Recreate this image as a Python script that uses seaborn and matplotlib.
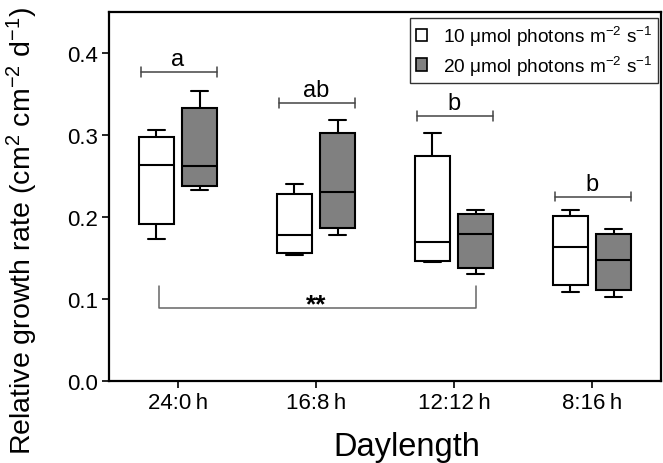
import matplotlib
matplotlib.use("Agg")
import matplotlib.pyplot as plt
import seaborn as sns
import pandas as pd

# ---- data (five-number summaries: whisker low, Q1, median, Q3, whisker high)
daylength = ["24:0\u2009h", "16:8\u2009h", "12:12\u2009h", "8:16\u2009h"]
light_levels = ["10 \u03bcmol photons m$^{-2}$ s$^{-1}$", "20 \u03bcmol photons m$^{-2}$ s$^{-1}$"]
rgr_10 = [
    [0.173, 0.192, 0.263, 0.298, 0.306],
    [0.154, 0.156, 0.178, 0.228, 0.240],
    [0.145, 0.146, 0.170, 0.274, 0.303],
    [0.108, 0.117, 0.164, 0.201, 0.208],
]
rgr_20 = [
    [0.233, 0.238, 0.262, 0.333, 0.354],
    [0.178, 0.186, 0.230, 0.303, 0.318],
    [0.130, 0.138, 0.179, 0.204, 0.209],
    [0.102, 0.111, 0.148, 0.179, 0.185],
]
group_letters = ["a", "ab", "b", "b"]
letter_heights = [0.377, 0.339, 0.323, 0.225]
y_ticks = [0.0, 0.1, 0.2, 0.3, 0.4]

rows = []
for level, series in zip(light_levels, [rgr_10, rgr_20]):
    for d, vals in zip(daylength, series):
        for v in vals:
            rows.append({"Daylength": d, "Light": level, "RGR": v})
df = pd.DataFrame(rows)

sns.set_style("ticks")
plt.rcParams["font.family"] = ["Liberation Sans", "DejaVu Sans"]
plt.rcParams["mathtext.fontset"] = "custom"
plt.rcParams["mathtext.rm"] = "Liberation Sans"
plt.rcParams["mathtext.it"] = "Liberation Sans:italic"
plt.rcParams["mathtext.bf"] = "Liberation Sans:bold"
for k in ["text.color", "axes.labelcolor", "xtick.color", "ytick.color", "axes.edgecolor"]:
    plt.rcParams[k] = "black"

fig = plt.figure(figsize=(6.63, 4.64), dpi=100)
ax = fig.add_axes([0.1644, 0.1767, 0.8326, 0.7953])

sns.boxplot(
    data=df, x="Daylength", y="RGR", hue="Light", order=daylength, hue_order=light_levels,
    palette={light_levels[0]: "white", light_levels[1]: "#808080"},
    whis=(0, 100), width=0.625, gap=0.19, linecolor="black", linewidth=1.5,
    ax=ax,
)

ax.set_xlim(-0.5, 3.5)
ax.set_ylim(0, 0.45)
ax.set_yticks(y_ticks)
ax.set_yticklabels([f"{t:.1f}" for t in y_ticks])
ax.tick_params(axis="both", labelsize=16, length=5, width=1.2, direction="out", pad=3)
for s in ax.spines.values():
    s.set_visible(True)
    s.set_linewidth(1.6)
    s.set_color("black")
ax.set_xlabel("Daylength", fontsize=23.5)
ax.xaxis.set_label_coords(0.54, -0.135)
ax.set_ylabel("Relative growth rate (cm$^{2}$ cm$^{-2}$ d$^{-1}$)", fontsize=20.5)
ax.yaxis.set_label_coords(-0.125, 0.409)

# letter brackets
bc = "#444444"
for i, (lab, h) in enumerate(zip(group_letters, letter_heights)):
    x0, x1 = i - 0.27, i + 0.28
    ax.plot([x0, x1], [h, h], color=bc, lw=1.1)
    ax.plot([x0, x0], [h - 0.006, h + 0.006], color=bc, lw=1.1)
    ax.plot([x1, x1], [h - 0.006, h + 0.006], color=bc, lw=1.1)
    ax.text(i, h + 0.002, lab, ha="center", va="bottom", fontsize=17)

# ** bracket
sc = "#666666"
ax.plot([-0.138, -0.138, 2.159, 2.159], [0.116, 0.0886, 0.0886, 0.116], color=sc, lw=1.1)
ax.text(1.0, 0.079, "**", ha="center", va="bottom", fontsize=19, fontweight="bold")

handles, labels = ax.get_legend_handles_labels()
leg = ax.legend(handles, labels, loc="upper right", bbox_to_anchor=(0.994, 0.984), borderaxespad=0,
                fontsize=13.7, frameon=True, fancybox=False, edgecolor="black",
                handlelength=0.6, handleheight=0.65, handletextpad=0.8, borderpad=0.3,
                labelspacing=0.3)
leg.get_frame().set_linewidth(1.0)
for h in leg.legend_handles:
    h.set_edgecolor("black")
    h.set_linewidth(1.2)

fig.savefig("out.png", dpi=100)
